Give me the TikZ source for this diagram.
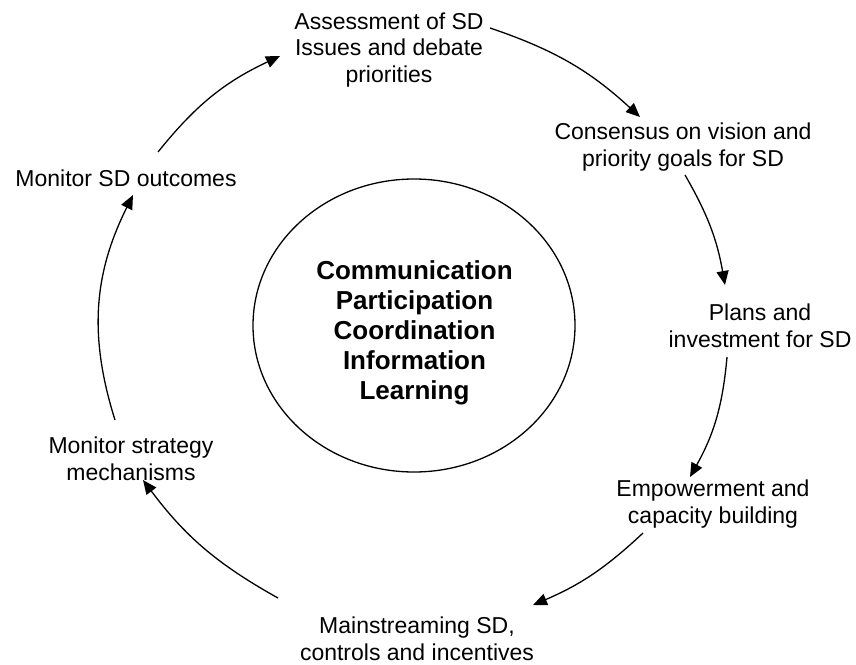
\documentclass[tikz,border=0pt]{standalone}
\usepackage{fontspec}
\setmainfont{Liberation Sans}
\usetikzlibrary{arrows.meta,shapes.geometric}

\begin{document}
\begin{tikzpicture}[x=1pt,y=-1pt]
         \tikzset{step label/.style={align=center,inner sep=0pt,font=\fontsize{23}{26.5}\selectfont}}
         \tikzset{hub label/.style={align=center,inner sep=0pt,font=\fontsize{26}{30}\selectfont\bfseries}}
         \tikzset{hub ring/.style={ellipse,draw,line width=1.3pt,minimum width=322pt,minimum height=293pt,inner sep=0pt}}
         \tikzset{cycle arrow/.style={line width=1.3pt,-{Triangle[length=14pt,width=12pt]}}}
         \useasboundingbox (0,0) rectangle (856,664);
         \node[hub ring] (hub) at (414,325.5) {};
         \node[hub label] (themes) at (414.5,333) {Communication\\Participation\\Coordination\\Information\\Learning};
         \node[step label] (assess) at (389,50) {Assessment of SD\\Issues and debate\\priorities};
         \node[step label] (consensus) at (683,147) {Consensus on vision and\\priority goals for SD};
         \node[step label] (plans) at (760,326) {Plans and\\investment for SD};
         \node[step label] (empower) at (713,504) {Empowerment and\\capacity building};
         \node[step label] (mainstream) at (417,639) {Mainstreaming SD,\\controls and incentives};
         \node[step label] (stratmon) at (131,459) {Monitor strategy\\mechanisms};
         \node[step label] (outmon) at (126,178) {Monitor SD outcomes};
         \coordinate (outmon out) at (158,152);
         \coordinate (assess in) at (280,56);
         \coordinate (assess out) at (490,28);
         \coordinate (consensus in) at (640,117);
         \coordinate (consensus out) at (685,175);
         \coordinate (plans in) at (725,285);
         \coordinate (plans out) at (727,357);
         \coordinate (empower in) at (690,477);
         \coordinate (empower out) at (643,533);
         \coordinate (mainstream in) at (533,605);
         \coordinate (mainstream out) at (278,598);
         \coordinate (stratmon in) at (143,480);
         \coordinate (stratmon out) at (115,420);
         \coordinate (outmon in) at (133,195);
         \draw[cycle arrow] (outmon out) to[bend left=13] (assess in);
         \draw[cycle arrow] (assess out) to[bend left=12] (consensus in);
         \draw[cycle arrow] (consensus out) to[bend left=10] (plans in);
         \draw[cycle arrow] (plans out) to[bend left=12] (empower in);
         \draw[cycle arrow] (empower out) to[bend left=10] (mainstream in);
         \draw[cycle arrow] (mainstream out) to[bend left=12] (stratmon in);
         \draw[cycle arrow] (stratmon out) to[bend left=22] (outmon in);
\end{tikzpicture}
\end{document}
